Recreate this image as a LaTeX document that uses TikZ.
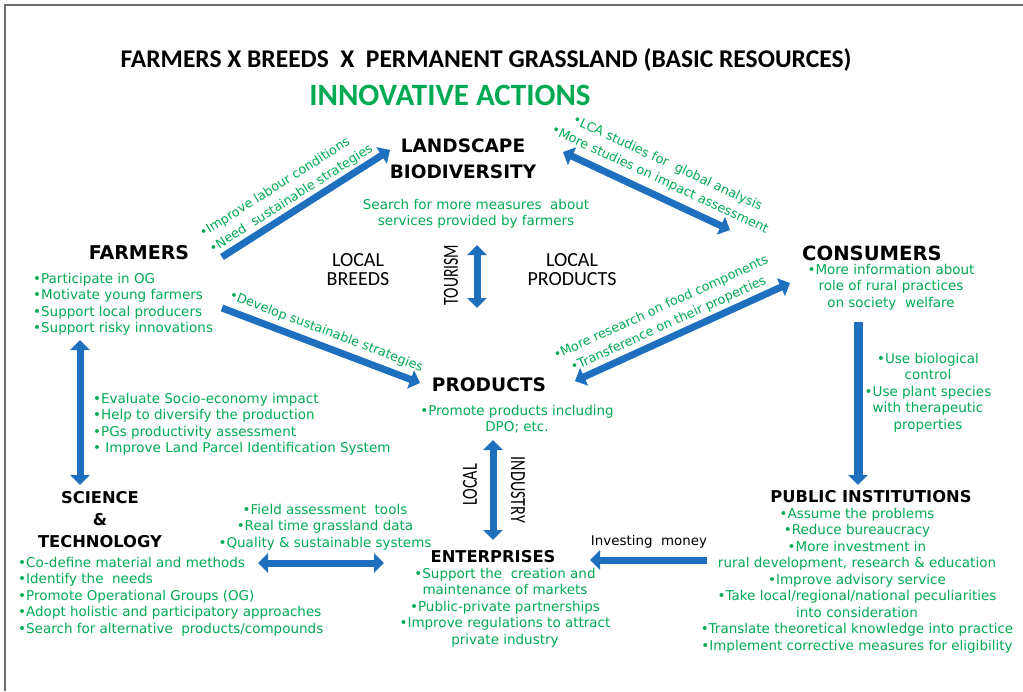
\documentclass[tikz,border=0pt]{standalone}
\usepackage{fontspec}
\setmainfont{DejaVu Sans}
\newfontfamily\carlito{Carlito}
\usetikzlibrary{arrows.meta}
\definecolor{arrowblue}{RGB}{30,112,190}
\definecolor{textgreen}{RGB}{0,170,82}
\definecolor{framegray}{RGB}{110,110,110}

\begin{document}
\begin{tikzpicture}[x=1pt,y=-1pt,
  head/.style={font=\bfseries\fontsize{19}{26}\selectfont, inner sep=0pt, align=center},
  smallhead/.style={head, font=\bfseries\fontsize{16.3}{22}\selectfont},
  note/.style={text=textgreen, font=\fontsize{13.5}{16.5}\selectfont, inner sep=0pt},
  slopenote/.style={note, sloped, font=\fontsize{12.8}{18}\selectfont},
  plain/.style={font=\carlito\fontsize{20}{19}\selectfont, inner sep=0pt, align=center},
  narrow/.style={font=\carlito\fontsize{21.5}{22}\selectfont, inner sep=0pt},
  bigarrow/.style={draw=arrowblue, line width=7pt, -{Triangle[length=10pt,width=19pt]}},
  twoway/.style={bigarrow, {Triangle[length=10pt,width=19pt]}-{Triangle[length=10pt,width=19pt]}}]

  \useasboundingbox (0,0) rectangle (1023,691);
  \draw[framegray, line width=2pt] (5,691) -- (5,5) -- (1023,5);

  % Titles
  \node[inner sep=0pt, font=\carlito\bfseries\fontsize{25.5}{27}\selectfont] (title) at (486,60)
    {FARMERS X BREEDS~~X~~PERMANENT GRASSLAND (BASIC RESOURCES)};
  \node[inner sep=0pt, text=textgreen, font=\carlito\bfseries\fontsize{31}{32}\selectfont] (innov) at (450,95)
    {INNOVATIVE ACTIONS};

  % Main actors
  \node[head, font=\bfseries\fontsize{18.5}{26}\selectfont] (landscape) at (463,159) {LANDSCAPE\\BIODIVERSITY};
  \node[head] (farmers) at (139,253) {FARMERS};
  \node[head, font=\bfseries\fontsize{19.6}{26}\selectfont] (consumers) at (872,253) {CONSUMERS};
  \node[head, font=\bfseries\fontsize{18.6}{26}\selectfont] (products) at (489,385) {PRODUCTS};
  \node[smallhead] (science) at (100,520) {SCIENCE\\\&\\TECHNOLOGY};
  \node[smallhead] (public) at (871,497) {PUBLIC INSTITUTIONS};
  \node[smallhead] (enterprises) at (493,557) {ENTERPRISES};

  % Middle labels
  \node[plain] (breeds) at (358,270) {LOCAL\\BREEDS};
  \node[plain] (localprod) at (572,270) {LOCAL\\PRODUCTS};
  \node[narrow, rotate=90] (tourism) at (451,275) {\scalebox{0.73}[1]{TOURISM}};
  \node[narrow, rotate=90] (local) at (470,485) {\scalebox{0.75}[1]{LOCAL}};
  \node[narrow, rotate=-90] (industry) at (518,490) {\scalebox{0.75}[1]{INDUSTRY}};
  \node[inner sep=0pt, font=\fontsize{13.4}{16.5}\selectfont] (invest) at (649,542) {Investing~~money};

  % Green notes
  \node[note, align=center, anchor=north] (searchtxt) at (476,199)
    {Search for more measures~~about\\services provided by farmers};
  \node[note, align=left, anchor=north west] (farmlist) at (33,273)
    {•Participate in OG\\•Motivate young farmers\\•Support local producers\\•Support risky innovations};
  \node[note, align=center, anchor=north] (conslist) at (891,264)
    {•More information about\\role of rural practices\\on society~~welfare};
  \node[note, align=center, anchor=north] (biolist) at (928,353)
    {•Use biological\\control\\•Use plant species\\with therapeutic\\properties};
  \node[note, align=center, anchor=north] (prodlist) at (517,405)
    {•Promote products including\\DPO; etc.};
  \node[note, align=left, anchor=north west] (evallist) at (93,393)
    {•Evaluate Socio-economy impact\\•Help to diversify the production\\•PGs productivity assessment\\• Improve Land Parcel Identification System};
  \node[note, align=left, anchor=north west] (scilist) at (18,557)
    {•Co-define material and methods\\•Identify the~~needs\\•Promote Operational Groups (OG)\\•Adopt holistic and participatory approaches\\•Search for alternative~~products/compounds};
  \node[note, align=center, anchor=north] (fieldlist) at (325,504)
    {•Field assessment~~tools\\•Real time grassland data\\•Quality \& sustainable systems};
  \node[note, align=center, anchor=north] (entlist) at (505,568)
    {•Support the~~creation and\\maintenance of markets\\•Public-private partnerships\\•Improve regulations to attract\\private industry};
  \node[note, align=center, anchor=north] (publist) at (857,508)
    {•Assume the problems\\•Reduce bureaucracy\\•More investment in\\rural development, research \& education\\•Improve advisory service\\•Take local/regional/national peculiarities\\into consideration\\•Translate theoretical knowledge into practice\\•Implement corrective measures for eligibility};

  % Arrow ends
  \coordinate (farm-ne) at (222,257);
  \coordinate (land-sw) at (390,150);
  \coordinate (land-se) at (563,152);
  \coordinate (cons-nw) at (730,230);
  \coordinate (farm-se) at (222,308);
  \coordinate (prod-w) at (420,383);
  \coordinate (prod-e) at (575,381);
  \coordinate (cons-sw) at (790,283);
  \coordinate (tour-top) at (477,245);
  \coordinate (tour-bot) at (477,308);
  \coordinate (farm-s) at (80,340);
  \coordinate (sci-n) at (80,485);
  \coordinate (cons-s) at (858,322);
  \coordinate (pub-n) at (858,485);
  \coordinate (prod-s) at (493,440);
  \coordinate (ent-n) at (493,540);
  \coordinate (pub-w) at (707,560);
  \coordinate (ent-e) at (590,560);
  \coordinate (sci-e) at (258,563);
  \coordinate (ent-w) at (384,563);

  % Draw arrows
  \draw[bigarrow] (farm-ne) -- node[slopenote, above=2pt, pos=0.45, align=left]
    {•Improve labour conditions\\•Need~~sustainable strategies} (land-sw);
  \draw[twoway] (land-se) -- node[slopenote, above=6pt, pos=0.54, align=center]
    {•LCA studies for~~global analysis\\•More studies on impact assessment} (cons-nw);
  \draw[bigarrow] (farm-se) -- node[slopenote, above=5pt, pos=0.5]
    {•Develop sustainable strategies} (prod-w);
  \draw[twoway] (prod-e) -- node[slopenote, above=3pt, pos=0.46, align=center]
    {•More research on food components\\•Transference on their properties} (cons-sw);
  \draw[twoway] (tour-top) -- (tour-bot);
  \draw[twoway] (farm-s) -- (sci-n);
  \draw[bigarrow, line width=9pt] (cons-s) -- (pub-n);
  \draw[twoway] (prod-s) -- (ent-n);
  \draw[bigarrow] (pub-w) -- (ent-e);
  \draw[twoway] (sci-e) -- (ent-w);
\end{tikzpicture}
\end{document}
